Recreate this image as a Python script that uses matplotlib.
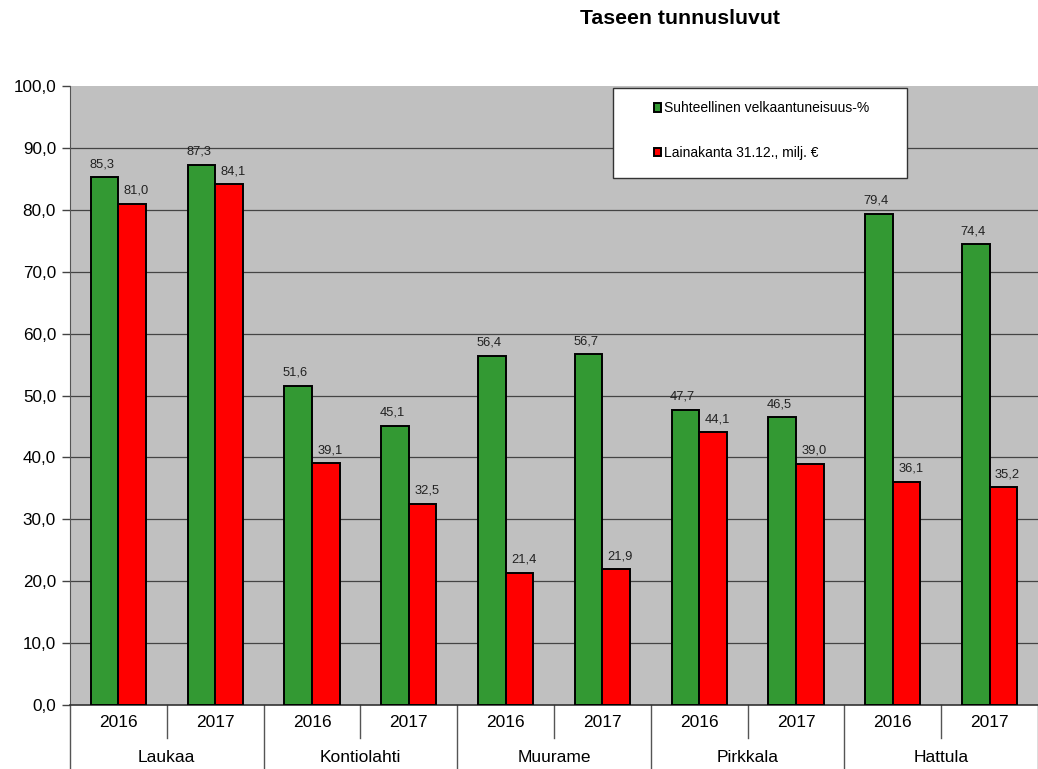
import numpy as np
import matplotlib
matplotlib.use("Agg")
import matplotlib.pyplot as plt
from matplotlib.patches import Rectangle

plt.rcParams['font.family'] = ['Liberation Sans', 'DejaVu Sans']

kunnat = ["Laukaa", "Kontiolahti", "Muurame", "Pirkkala", "Hattula"]
vuodet = ["2016", "2017"]
velkaantuneisuus = [85.3, 87.3, 51.6, 45.1, 56.4, 56.7, 47.7, 46.5, 79.4, 74.4]
lainakanta = [81.0, 84.1, 39.1, 32.5, 21.4, 21.9, 44.1, 39.0, 36.1, 35.2]
sarjat = ["Suhteellinen velkaantuneisuus-%", "Lainakanta 31.12., milj. €"]


def fi(v):
    return f"{v:.1f}".replace(".", ",")


fig = plt.figure(figsize=(10.38, 7.69), dpi=100)
ax = fig.add_axes([70 / 1038, 64 / 769, 968 / 1038, 619 / 769])
ax.set_facecolor("#c0c0c0")

n = len(velkaantuneisuus)
x = np.arange(n)
w = 0.285
b1 = ax.bar(x - w / 2, velkaantuneisuus, w, color="#339933", edgecolor="black", linewidth=1.4,
            label=sarjat[0], zorder=3)
b2 = ax.bar(x + w / 2, lainakanta, w, color="#ff0000", edgecolor="black", linewidth=1.4,
            label=sarjat[1], zorder=3)

# arvot palkkien päälle, vihreät hieman vasemmalle ja punaiset oikealle
for bars, vals, dx in ((b1, velkaantuneisuus, -2), (b2, lainakanta, 3)):
    for r, v in zip(bars, vals):
        ax.annotate(fi(v), (r.get_x() + r.get_width() / 2, v), xytext=(dx, 5),
                    textcoords="offset points", ha="center", va="bottom",
                    fontsize=9.3, color="#222222")

ax.set_xlim(-0.5, n - 0.5)
ax.set_ylim(0, 100)
ax.set_yticks(np.arange(0, 101, 10))
ax.set_yticklabels([fi(t) for t in np.arange(0, 101, 10)], fontsize=12.3)
ax.tick_params(axis="y", length=6, width=1, color="#444444", pad=4)
ax.set_xticks([])
for t in range(10, 100, 10):
    ax.axhline(t, color="#444444", linewidth=0.9, zorder=1)

for s in ["top", "right"]:
    ax.spines[s].set_visible(False)
ax.spines["left"].set_color("#555555")
ax.spines["bottom"].set_color("#333333")
ax.spines["bottom"].set_linewidth(1.2)

# kategoria-akseli alla
tr = ax.get_xaxis_transform()
for i in range(n):
    ax.text(i, -0.028, vuodet[i % 2], transform=tr, ha="center", va="center", fontsize=12.5)
for g, nimi in enumerate(kunnat):
    ax.text(2 * g + 0.5, -0.085, nimi, transform=tr, ha="center", va="center", fontsize=12.5)
for i in range(n + 1):
    pos = i - 0.5
    low = -0.105 if i % 2 == 0 else -0.053
    ax.plot([pos, pos], [0, low], transform=tr, color="#555555", linewidth=1, clip_on=False)

# selite
ax.add_patch(Rectangle((0.561, 0.851), 0.304, 0.146, transform=ax.transAxes,
                       facecolor="white", edgecolor="#333333", linewidth=1, zorder=4))
leg = ax.legend(loc="upper left", bbox_to_anchor=(0.603, 0.975), frameon=False,
                fontsize=10, handlelength=0.55, handleheight=0.55, handletextpad=0.2,
                labelspacing=2.2, borderpad=0, borderaxespad=0)
leg.set_zorder(5)

fig.text(680 / 1038, 1 - 18 / 769, "Taseen tunnusluvut", ha="center", va="center",
         fontsize=15.3, fontweight="bold")

fig.savefig("out.png", dpi=100)
